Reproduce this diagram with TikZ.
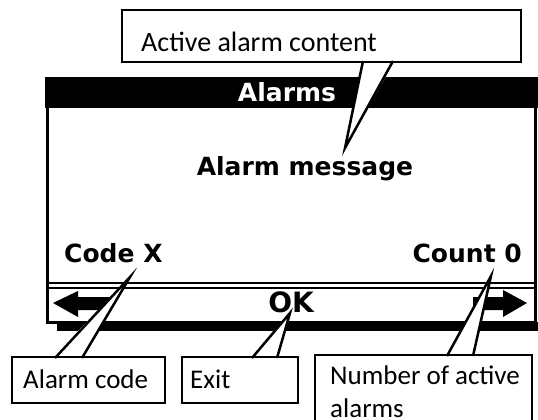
\documentclass[tikz,border=0pt]{standalone}
\usepackage{fontspec}
\setmainfont{Carlito}
\newfontfamily\lcdfont{DejaVu Sans}
\usepackage{tikz}

\tikzset{
  lcd/.style={font=\lcdfont\bfseries\fontsize{25}{30}\selectfont, inner sep=0pt},
  note/.style={font=\fontsize{27}{33}\selectfont, inner sep=0pt, anchor=west, align=left},
  notebox/.style={draw, line width=2.5pt, fill=white}
}

\begin{document}
\begin{tikzpicture}[x=1pt, y=-1pt, line join=miter]

\useasboundingbox (0,0) rectangle (538,420);

% display
\draw[line width=3pt] (47,79) rectangle (535,322);
\fill (45,77) rectangle (538,108);
\draw[line width=2.5pt] (47,283) -- (535,283);
\draw[line width=2.5pt] (47,288) -- (535,288);
\fill (57,322) rectangle (538,331);

% arrows in the footer
\fill (53,303) -- (78,291) -- (78,297) -- (110,297) -- (110,310) -- (78,310) -- (78,317) -- cycle;
\fill (527,303) -- (503,290) -- (503,297) -- (473,297) -- (473,310) -- (503,310) -- (503,317) -- cycle;

% display texts
\node[lcd, text=white] (title) at (287,92) {Alarms};
\node[lcd] (msg) at (305,169) {Alarm message};
\node[lcd, anchor=west] (code) at (64,253) {Code X};
\node[lcd, anchor=east] (count) at (522,253) {Count 0};
\node[lcd, font=\lcdfont\bfseries\fontsize{28}{32}\selectfont] (ok) at (291,302) {OK};

% callout boxes
\draw[notebox] (122,10) rectangle (521,62);
\draw[notebox] (12,357) rectangle (165,403);
\draw[notebox] (182,357) rectangle (298,403);
\draw[notebox] (315,355) rectangle (532,440);

% callout tails
\coordinate (acttip) at (345,148);
\coordinate (codetip) at (130,277);
\coordinate (exittip) at (290,313);
\coordinate (numtip) at (491,276);

\fill[white] (363,64) -- (acttip) -- (393,64) -- cycle;
\draw[line width=2.5pt] (363,61) -- (acttip) -- (393,61);
\fill[white] (55,355) -- (codetip) -- (82,355) -- cycle;
\draw[line width=2.5pt] (55,358) -- (codetip) -- (82,358);
\fill[white] (252,355) -- (exittip) -- (277,355) -- cycle;
\draw[line width=2.5pt] (252,358) -- (exittip) -- (277,358);
\fill[white] (447,353) -- (numtip) -- (473,353) -- cycle;
\draw[line width=2.5pt] (447,356) -- (numtip) -- (473,356);

% callout texts
\node[note, font=\fontsize{28}{33}\selectfont] (act) at (141,42) {Active alarm content};
\node[note] (alarmcode) at (23,379) {Alarm code};
\node[note] (exit) at (190,379) {Exit};
\node[note, anchor=north west] (number) at (330,366) {Number of active\\alarms};

\end{tikzpicture}
\end{document}
